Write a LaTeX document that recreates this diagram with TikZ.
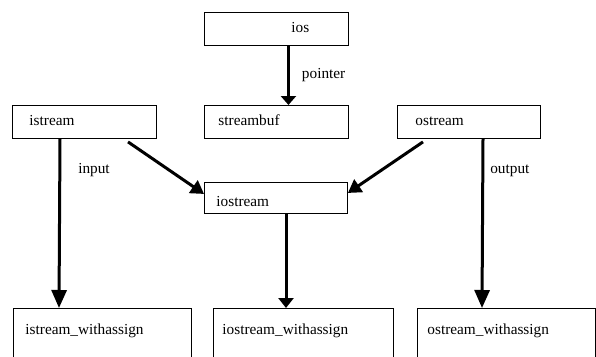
\documentclass[tikz,border=0pt]{standalone}
\usepackage{fontspec}
\setmainfont{Liberation Serif}
\usetikzlibrary{arrows.meta}

\tikzset{
  classbox/.style={draw=black, line width=0.9pt, anchor=north west,
    inner ysep=0pt, align=left, font=\fontsize{15.3}{18}\selectfont},
  topbox/.style={classbox, text height=20.5pt, text depth=12.5pt},
  link/.style={line width=3pt},
  tip/.style={-{Triangle[width=15pt,length=#1]}},
  tag/.style={anchor=base west, inner sep=0pt, font=\fontsize{15.3}{18}\selectfont}
}

\begin{document}
\begin{tikzpicture}[x=1pt,y=-1pt]
  \useasboundingbox (0,0) rectangle (596,356);
  \clip (0,0) rectangle (596,356);

  % top row
  \node[topbox, inner xsep=0pt, text width=144pt] (ios) at (204,12)
    {\hspace*{87pt}ios};
  \node[topbox, inner xsep=14pt, text width=116pt] (streambuf) at (204,105)
    {streambuf};
  \node[topbox, inner xsep=17pt, text width=110pt] (istream) at (12,105)
    {istream};
  \node[topbox, inner xsep=18pt, text width=107pt] (ostream) at (397,105)
    {ostream};

  % middle
  \node[classbox, inner xsep=12pt, text width=119pt,
        text height=24pt, text depth=7pt] (iostream) at (204,182) {iostream};

  % bottom row (boxes run past the lower edge)
  \node[classbox, inner xsep=12pt, text width=154pt,
        text height=26.5pt, text depth=40pt] (isw) at (13,308) {istream\_withassign};
  \node[classbox, inner xsep=9pt, text width=162pt,
        text height=26.5pt, text depth=40pt] (iosw) at (213,308) {iostream\_withassign};
  \node[classbox, inner xsep=10pt, text width=158pt,
        text height=26.5pt, text depth=40pt] (osw) at (417,308) {ostream\_withassign};

  % connectors
  \draw[link, tip=9pt] ([xshift=12pt]ios.south) -- node[tag, pos=0.55, xshift=12pt] {pointer}
    ([xshift=12pt]streambuf.north);
  \draw[link, tip=13pt] ([xshift=116pt,yshift=-3pt]istream.south west) -- ([yshift=4pt]iostream.west);
  \draw[link, tip=13pt] ([xshift=26pt,yshift=-3pt]ostream.south west) -- ([yshift=5pt]iostream.east);
  \draw[link, tip=18pt] ([xshift=48pt]istream.south west) -- node[tag, pos=0.206, xshift=17pt] {input}
    ([xshift=46pt]isw.north west);
  \draw[link, tip=18pt] ([xshift=86pt]ostream.south west) -- node[tag, pos=0.206, xshift=6pt] {output}
    ([xshift=65pt]osw.north west);
  \draw[link, tip=10pt] ([xshift=82pt]iostream.south west) -- ([xshift=73pt]iosw.north west);
\end{tikzpicture}
\end{document}
